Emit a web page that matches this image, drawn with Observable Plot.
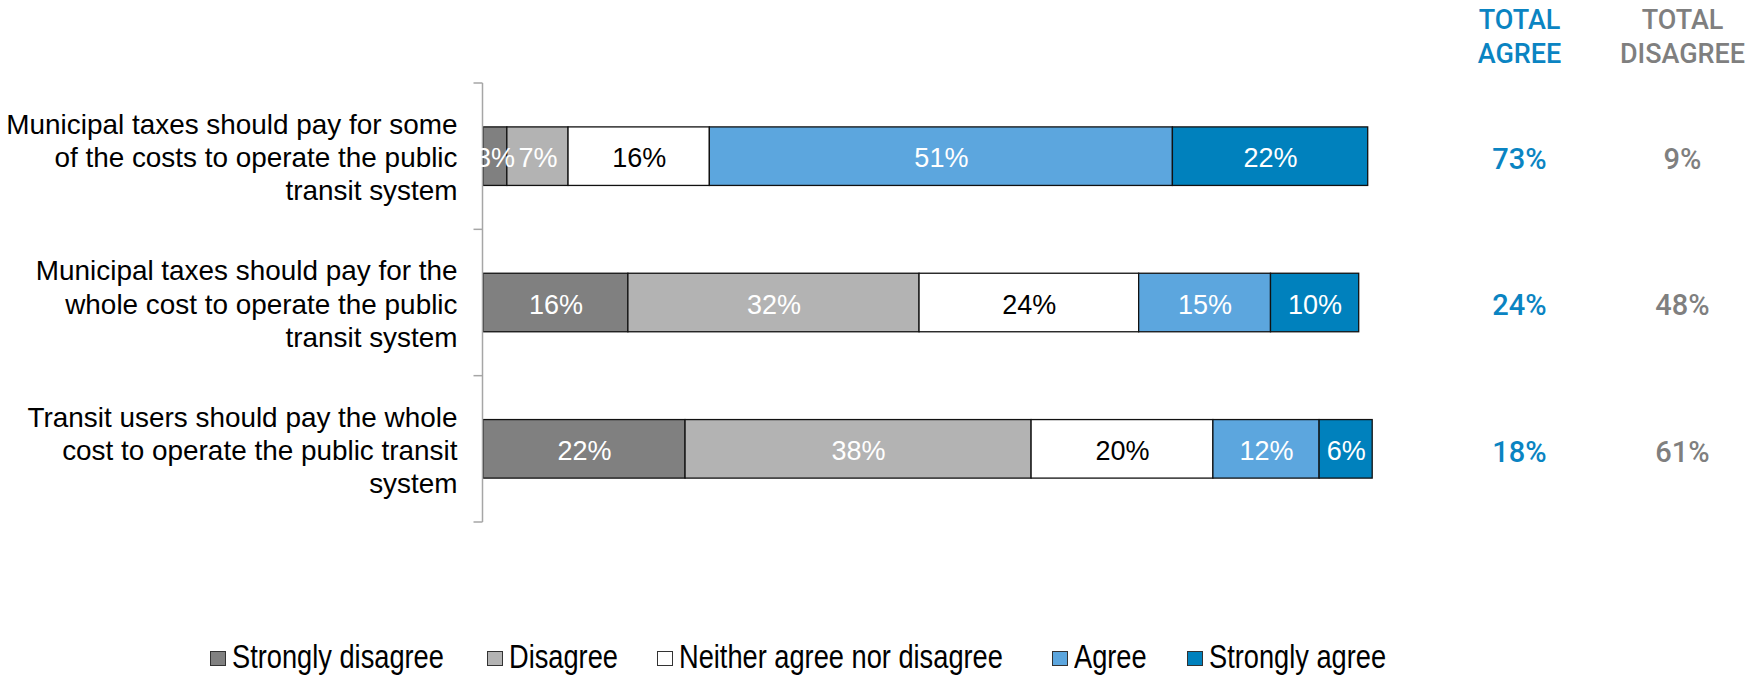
<!DOCTYPE html>
<html><head><meta charset="utf-8">
<script src="https://cdn.jsdelivr.net/npm/d3@7"></script>
<script src="https://cdn.jsdelivr.net/npm/@observablehq/plot@0.6"></script>
<style>
html,body{margin:0;padding:0;background:#fff;}
#chart svg{display:block;}
#legend{position:relative;width:1748px;height:47px;font-family:"Liberation Sans",Arial,sans-serif;font-size:33px;color:#000;}
.sw{position:absolute;box-sizing:border-box;width:15.6px;height:15.6px;border:1.2px solid #333;}
.lbl{position:absolute;white-space:nowrap;line-height:33px;transform:scaleX(0.825);transform-origin:0 50%;}
</style></head><body>
<div id="chart"></div><div id="legend"></div>
<script>
// ---- data ----
const statements = [
  "Municipal taxes should pay for some\nof the costs to operate the public\ntransit system",
  "Municipal taxes should pay for the\nwhole cost to operate the public\ntransit system",
  "Transit users should pay the whole\ncost to operate the public transit\nsystem"
];
const responses = ["Strongly disagree", "Disagree", "Neither agree nor disagree", "Agree", "Strongly agree"];
const stronglyDisagree = [2.65, 16.1, 22.45];
const disagree = [6.8, 32.35, 38.45];
const neither = [15.7, 24.4, 20.2];
const agree = [51.45, 14.65, 11.8];
const stronglyAgree = [21.7, 9.8, 5.9];
const totalAgree = [73, 24, 18];
const totalDisagree = [9, 48, 61];
const columnHeaders = ["TOTAL\nAGREE", "TOTAL\nDISAGREE"];

// ---- styling ----
const colors = ["#808080", "#b3b3b3", "#ffffff", "#5ca6de", "#0081bd"];
const agreeColor = "#0a84c2";
const disagreeColor = "#7f7f7f";

const seriesValues = [stronglyDisagree, disagree, neither, agree, stronglyAgree];
const rows = statements.flatMap((s, i) => responses.map((r, j) => ({statement: s, response: r, value: seriesValues[j][i]})));
const fmt = d => Math.round(d.value) + "%";

function bracketAxis(index, scales, values, dims) {
  const y = scales.y;
  const step = y.step(), bw = y.bandwidth();
  const x0 = dims.marginLeft - 0.5;
  const top = dims.marginTop, bottom = dims.height - dims.marginBottom;
  const g = d3.create("svg:g").attr("stroke", "#a6a6a6").attr("stroke-width", 1.5).attr("fill", "none");
  g.append("line").attr("x1", x0).attr("x2", x0).attr("y1", top).attr("y2", bottom);
  const ys = [top, ...y.domain().slice(1).map(d => y(d) - (step - bw) / 2), bottom];
  for (const yy of ys) g.append("line").attr("x1", x0 - 9).attr("x2", x0).attr("y1", yy).attr("y2", yy);
  return g.node();
}

const plot = Plot.plot({
  width: 1748,
  height: 630,
  marginLeft: 483,
  marginRight: 365,
  marginTop: 83,
  marginBottom: 108,
  x: {domain: [0, 100], axis: null},
  y: {domain: statements, axis: null, paddingInner: 0.6, paddingOuter: 0.3, round: false},
  color: {domain: responses, range: colors},
  style: {fontFamily: "'Liberation Sans', Arial, sans-serif", background: "#fff", overflow: "visible"},
  marks: [
    Plot.barX(rows, Plot.stackX({x: "value", y: "statement", fill: "response", order: responses, stroke: "#111", strokeWidth: 1.3})),
    bracketAxis,
    Plot.text(rows, Plot.stackX({x: "value", y: "statement", z: "response", order: responses,
      text: d => d.response === responses[2] ? null : fmt(d), fill: "#fff", fontSize: 27, dy: 2})),
    Plot.text(rows, Plot.stackX({x: "value", y: "statement", z: "response", order: responses,
      text: d => d.response === responses[2] ? fmt(d) : null, fill: "#000", fontSize: 27, dy: 2})),
    Plot.text(statements, {y: d => d, text: d => d, frameAnchor: "left", dx: -26, textAnchor: "end",
      lineAnchor: "middle", fontSize: 27.9, lineHeight: 1.19, fill: "#000"}),
    Plot.text(statements, {y: d => d, text: (d, i) => totalAgree[i] + "%", frameAnchor: "right", textAnchor: "middle", dx: 136, dy: 3,
      fill: agreeColor, fontSize: 29, fontWeight: 500, fontFamily: "Roboto"}),
    Plot.text(statements, {y: d => d, text: (d, i) => totalDisagree[i] + "%", frameAnchor: "right", textAnchor: "middle", dx: 299, dy: 3,
      fill: disagreeColor, fontSize: 29, fontWeight: 500, fontFamily: "Roboto"}),
    Plot.text([columnHeaders[0]], {text: d => d, frameAnchor: "top-right", textAnchor: "middle", dx: 136, dy: -20.3, lineAnchor: "bottom",
      lineHeight: 1.285, fill: agreeColor, fontSize: 27, fontWeight: 500, fontFamily: "Roboto"}),
    Plot.text([columnHeaders[1]], {text: d => d, frameAnchor: "top-right", textAnchor: "middle", dx: 299, dy: -20.3, lineAnchor: "bottom",
      lineHeight: 1.285, fill: disagreeColor, fontSize: 27, fontWeight: 500, fontFamily: "Roboto"})
  ]
});
document.getElementById("chart").appendChild(plot);

// ---- legend (HTML, below the SVG) ----
const legendLeft = [210, 487, 657, 1052, 1187];
const legend = document.getElementById("legend");
responses.forEach((r, j) => {
  const sw = document.createElement("div");
  sw.className = "sw";
  sw.style.left = legendLeft[j] + "px";
  sw.style.top = "20.5px";
  sw.style.background = colors[j];
  legend.appendChild(sw);
  const lb = document.createElement("div");
  lb.className = "lbl";
  lb.style.left = (legendLeft[j] + 21.5) + "px";
  lb.style.top = "9.5px";
  lb.textContent = r;
  legend.appendChild(lb);
});
</script>
</body></html>
